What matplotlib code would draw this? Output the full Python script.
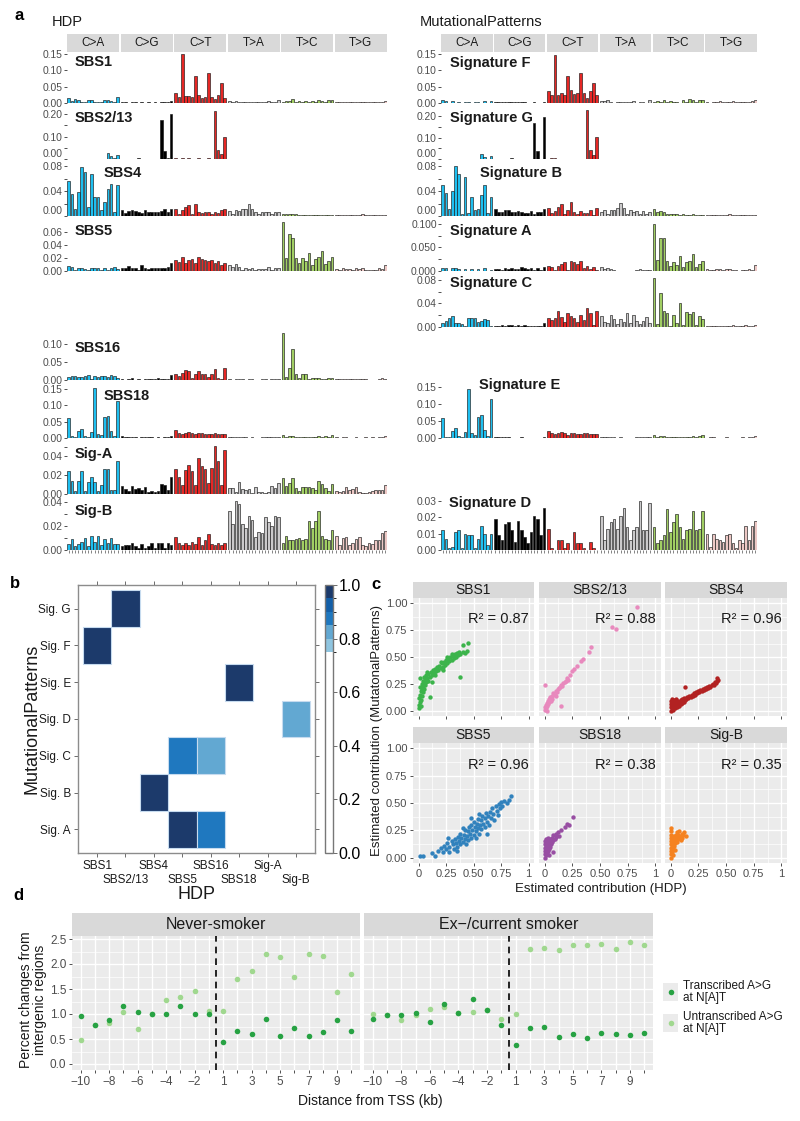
import matplotlib
matplotlib.use('Agg')
import matplotlib.pyplot as plt
import numpy as np
from matplotlib.patches import Rectangle
from matplotlib.colors import ListedColormap, BoundaryNorm
from matplotlib.cm import ScalarMappable

plt.rcParams['font.family'] = ['Liberation Sans', 'DejaVu Sans']

# ---------------- data: panel a (96-channel spectra, 6 groups x 16) ----------------
mut_types = ['C>A', 'C>G', 'C>T', 'T>A', 'T>C', 'T>G']
type_colors = ['#1ebff0', '#000000', '#e62725', '#cbcacb', '#a1ce63', '#edc8c5']

sbs1 = [[0.015, 0.005, 0.013, 0.008, 0.003, 0.002, 0.008, 0.009, 0.003, 0.002, 0.003, 0.010, 0.008, 0.007, 0.002, 0.017],
        [0.002, 0.002, 0.001, 0.002, 0.002, 0.001, 0.002, 0.001, 0.002, 0.001, 0.002, 0.001, 0.002, 0.002, 0.002, 0.006],
        [0.030, 0.018, 0.150, 0.020, 0.020, 0.017, 0.082, 0.023, 0.015, 0.018, 0.092, 0.018, 0.012, 0.024, 0.060, 0.015],
        [0.005, 0.004, 0.007, 0.003, 0.002, 0.003, 0.002, 0.003, 0.002, 0.003, 0.004, 0.002, 0.005, 0.003, 0.002, 0.008],
        [0.004, 0.006, 0.006, 0.012, 0.004, 0.006, 0.004, 0.005, 0.003, 0.006, 0.004, 0.010, 0.006, 0.004, 0.008, 0.009],
        [0.002, 0.003, 0.004, 0.002, 0.003, 0.002, 0.003, 0.004, 0.002, 0.003, 0.002, 0.003, 0.002, 0.003, 0.004, 0.007]]
sbs2_13 = [[0.001, 0.001, 0.001, 0.002, 0.001, 0.001, 0.001, 0.001, 0.001, 0.001, 0.001, 0.001, 0.025, 0.012, 0.005, 0.016],
           [0.002, 0.001, 0.001, 0.001, 0.002, 0.004, 0.001, 0.001, 0.001, 0.001, 0.001, 0.001, 0.175, 0.036, 0.005, 0.200],
           [0.003, 0.002, 0.003, 0.002, 0.004, 0.002, 0.002, 0.003, 0.002, 0.002, 0.003, 0.002, 0.215, 0.038, 0.023, 0.097],
           [0.001, 0.001, 0.001, 0.001, 0.001, 0.001, 0.001, 0.001, 0.001, 0.001, 0.001, 0.001, 0.001, 0.001, 0.001, 0.001],
           [0.002, 0.001, 0.001, 0.001, 0.001, 0.001, 0.001, 0.001, 0.001, 0.001, 0.001, 0.001, 0.001, 0.001, 0.001, 0.001],
           [0.001, 0.001, 0.001, 0.001, 0.001, 0.001, 0.001, 0.001, 0.001, 0.001, 0.001, 0.001, 0.001, 0.001, 0.001, 0.001]]
sbs4 = [[0.056, 0.036, 0.011, 0.039, 0.079, 0.070, 0.015, 0.067, 0.031, 0.031, 0.010, 0.023, 0.044, 0.052, 0.006, 0.050],
        [0.010, 0.005, 0.008, 0.010, 0.008, 0.006, 0.005, 0.009, 0.007, 0.006, 0.006, 0.006, 0.008, 0.011, 0.007, 0.012],
        [0.011, 0.004, 0.009, 0.015, 0.018, 0.003, 0.019, 0.006, 0.005, 0.007, 0.007, 0.004, 0.007, 0.005, 0.010, 0.011],
        [0.008, 0.004, 0.010, 0.008, 0.011, 0.012, 0.020, 0.011, 0.007, 0.004, 0.007, 0.006, 0.007, 0.004, 0.006, 0.007],
        [0.003, 0.004, 0.004, 0.003, 0.004, 0.002, 0.001, 0.001, 0.001, 0.001, 0.001, 0.001, 0.001, 0.002, 0.001, 0.001],
        [0.001, 0.001, 0.001, 0.002, 0.001, 0.001, 0.001, 0.001, 0.003, 0.001, 0.001, 0.001, 0.001, 0.002, 0.001, 0.002]]
sbs5 = [[0.007, 0.006, 0.002, 0.005, 0.004, 0.003, 0.001, 0.004, 0.004, 0.004, 0.002, 0.004, 0.002, 0.004, 0.006, 0.003],
        [0.005, 0.004, 0.007, 0.005, 0.005, 0.002, 0.009, 0.004, 0.003, 0.005, 0.004, 0.005, 0.005, 0.004, 0.006, 0.013],
        [0.017, 0.014, 0.021, 0.013, 0.017, 0.019, 0.012, 0.022, 0.019, 0.017, 0.015, 0.017, 0.013, 0.016, 0.010, 0.013],
        [0.010, 0.006, 0.011, 0.006, 0.002, 0.004, 0.003, 0.004, 0.002, 0.003, 0.003, 0.003, 0.006, 0.002, 0.004, 0.005],
        [0.075, 0.020, 0.057, 0.051, 0.020, 0.012, 0.020, 0.015, 0.028, 0.009, 0.018, 0.022, 0.031, 0.011, 0.015, 0.022],
        [0.003, 0.002, 0.004, 0.003, 0.003, 0.002, 0.004, 0.003, 0.005, 0.001, 0.002, 0.001, 0.002, 0.004, 0.003, 0.009]]
sbs16 = [[0.008, 0.011, 0.011, 0.009, 0.008, 0.010, 0.014, 0.004, 0.010, 0.009, 0.010, 0.010, 0.009, 0.014, 0.010, 0.006],
         [0.002, 0.001, 0.003, 0.006, 0.001, 0.002, 0.001, 0.002, 0.002, 0.002, 0.003, 0.005, 0.004, 0.004, 0.004, 0.013],
         [0.016, 0.011, 0.020, 0.028, 0.026, 0.005, 0.018, 0.026, 0.016, 0.016, 0.007, 0.018, 0.030, 0.006, 0.004, 0.034],
         [0.004, 0.001, 0.004, 0.003, 0.003, 0.001, 0.002, 0.002, 0.001, 0.001, 0.002, 0.003, 0.001, 0.003, 0.002, 0.003],
         [0.132, 0.009, 0.032, 0.085, 0.017, 0.005, 0.016, 0.016, 0.003, 0.005, 0.006, 0.006, 0.004, 0.003, 0.006, 0.006],
         [0.003, 0.002, 0.002, 0.003, 0.002, 0.002, 0.003, 0.004, 0.003, 0.002, 0.001, 0.001, 0.001, 0.002, 0.005, 0.003]]
sbs18 = [[0.060, 0.005, 0.004, 0.021, 0.029, 0.006, 0.003, 0.019, 0.152, 0.013, 0.008, 0.063, 0.066, 0.022, 0.006, 0.114],
         [0.005, 0.003, 0.002, 0.004, 0.002, 0.001, 0.002, 0.002, 0.004, 0.002, 0.001, 0.002, 0.001, 0.002, 0.003, 0.007],
         [0.023, 0.016, 0.013, 0.016, 0.018, 0.016, 0.012, 0.014, 0.014, 0.012, 0.011, 0.012, 0.015, 0.013, 0.012, 0.012],
         [0.002, 0.002, 0.003, 0.002, 0.003, 0.002, 0.001, 0.002, 0.001, 0.001, 0.002, 0.002, 0.004, 0.002, 0.003, 0.003],
         [0.010, 0.004, 0.006, 0.006, 0.002, 0.003, 0.004, 0.004, 0.004, 0.004, 0.003, 0.006, 0.004, 0.006, 0.004, 0.009],
         [0.002, 0.001, 0.002, 0.002, 0.001, 0.001, 0.003, 0.001, 0.001, 0.002, 0.001, 0.002, 0.001, 0.002, 0.002, 0.006]]
sig_a_hdp = [[0.024, 0.014, 0.003, 0.014, 0.024, 0.003, 0.013, 0.018, 0.013, 0.003, 0.009, 0.026, 0.026, 0.004, 0.004, 0.035],
             [0.008, 0.005, 0.003, 0.008, 0.005, 0.006, 0.004, 0.007, 0.002, 0.003, 0.002, 0.003, 0.011, 0.009, 0.004, 0.018],
             [0.026, 0.018, 0.010, 0.025, 0.031, 0.024, 0.010, 0.038, 0.029, 0.026, 0.012, 0.027, 0.051, 0.035, 0.010, 0.046],
             [0.006, 0.006, 0.002, 0.013, 0.005, 0.004, 0.005, 0.001, 0.007, 0.002, 0.002, 0.001, 0.002, 0.008, 0.006, 0.012],
             [0.017, 0.008, 0.012, 0.017, 0.006, 0.003, 0.007, 0.007, 0.007, 0.006, 0.004, 0.014, 0.011, 0.006, 0.003, 0.011],
             [0.003, 0.002, 0.003, 0.007, 0.004, 0.005, 0.007, 0.002, 0.001, 0.001, 0.002, 0.003, 0.004, 0.004, 0.004, 0.010]]
sig_b_hdp = [[0.005, 0.009, 0.003, 0.005, 0.007, 0.010, 0.003, 0.012, 0.007, 0.012, 0.004, 0.009, 0.006, 0.010, 0.005, 0.005],
             [0.003, 0.004, 0.004, 0.006, 0.003, 0.002, 0.005, 0.002, 0.003, 0.006, 0.002, 0.006, 0.006, 0.002, 0.006, 0.004],
             [0.011, 0.006, 0.004, 0.006, 0.004, 0.007, 0.005, 0.011, 0.004, 0.008, 0.013, 0.005, 0.004, 0.006, 0.004, 0.006],
             [0.032, 0.022, 0.041, 0.038, 0.022, 0.018, 0.028, 0.025, 0.011, 0.015, 0.014, 0.027, 0.023, 0.020, 0.028, 0.027],
             [0.006, 0.012, 0.008, 0.008, 0.009, 0.010, 0.008, 0.009, 0.024, 0.018, 0.024, 0.032, 0.012, 0.009, 0.008, 0.017],
             [0.012, 0.004, 0.010, 0.011, 0.004, 0.006, 0.009, 0.011, 0.004, 0.003, 0.006, 0.005, 0.008, 0.008, 0.014, 0.016]]

sig_f = [[0.008, 0.007, 0.001, 0.007, 0.001, 0.002, 0.001, 0.002, 0.004, 0.001, 0.002, 0.002, 0.001, 0.007, 0.001, 0.007],
         [0.003, 0.002, 0.002, 0.003, 0.002, 0.003, 0.002, 0.003, 0.002, 0.002, 0.001, 0.001, 0.002, 0.001, 0.001, 0.002],
         [0.038, 0.025, 0.148, 0.025, 0.032, 0.025, 0.082, 0.040, 0.028, 0.030, 0.092, 0.032, 0.015, 0.037, 0.060, 0.025],
         [0.007, 0.007, 0.009, 0.002, 0.001, 0.004, 0.003, 0.004, 0.002, 0.003, 0.005, 0.001, 0.003, 0.002, 0.001, 0.010],
         [0.003, 0.006, 0.002, 0.010, 0.002, 0.007, 0.002, 0.003, 0.001, 0.008, 0.003, 0.012, 0.009, 0.003, 0.008, 0.008],
         [0.002, 0.001, 0.004, 0.002, 0.006, 0.002, 0.002, 0.004, 0.005, 0.002, 0.003, 0.003, 0.003, 0.004, 0.005, 0.009]]
sig_g = [[0.001, 0.001, 0.001, 0.002, 0.001, 0.001, 0.001, 0.002, 0.001, 0.001, 0.001, 0.001, 0.025, 0.010, 0.002, 0.016],
         [0.002, 0.001, 0.002, 0.001, 0.002, 0.003, 0.001, 0.001, 0.001, 0.001, 0.001, 0.001, 0.170, 0.036, 0.002, 0.195],
         [0.002, 0.003, 0.004, 0.002, 0.001, 0.002, 0.001, 0.002, 0.001, 0.002, 0.001, 0.002, 0.230, 0.043, 0.020, 0.105],
         [0.001, 0.001, 0.001, 0.001, 0.002, 0.001, 0.001, 0.001, 0.001, 0.001, 0.002, 0.001, 0.001, 0.001, 0.001, 0.001],
         [0.001, 0.001, 0.002, 0.001, 0.001, 0.001, 0.001, 0.001, 0.001, 0.002, 0.001, 0.001, 0.001, 0.001, 0.001, 0.001],
         [0.001, 0.001, 0.001, 0.001, 0.001, 0.001, 0.001, 0.001, 0.001, 0.001, 0.001, 0.001, 0.001, 0.001, 0.001, 0.001]]
sig_b = [[0.050, 0.037, 0.012, 0.040, 0.080, 0.068, 0.004, 0.062, 0.005, 0.030, 0.010, 0.012, 0.034, 0.050, 0.005, 0.030],
         [0.012, 0.006, 0.007, 0.010, 0.010, 0.006, 0.006, 0.008, 0.006, 0.005, 0.005, 0.008, 0.004, 0.007, 0.007, 0.012],
         [0.013, 0.005, 0.008, 0.014, 0.019, 0.004, 0.009, 0.023, 0.006, 0.004, 0.008, 0.005, 0.005, 0.010, 0.002, 0.013],
         [0.006, 0.010, 0.004, 0.010, 0.010, 0.013, 0.021, 0.013, 0.004, 0.010, 0.007, 0.008, 0.004, 0.008, 0.004, 0.007],
         [0.012, 0.006, 0.008, 0.006, 0.004, 0.003, 0.004, 0.003, 0.002, 0.003, 0.001, 0.002, 0.003, 0.001, 0.001, 0.001],
         [0.001, 0.001, 0.002, 0.001, 0.001, 0.002, 0.001, 0.004, 0.001, 0.001, 0.002, 0.001, 0.001, 0.002, 0.001, 0.002]]
sig_a = [[0.006, 0.006, 0.001, 0.006, 0.006, 0.004, 0.001, 0.005, 0.001, 0.005, 0.001, 0.004, 0.001, 0.006, 0.001, 0.002],
         [0.004, 0.005, 0.003, 0.007, 0.005, 0.007, 0.004, 0.004, 0.008, 0.006, 0.005, 0.006, 0.003, 0.006, 0.003, 0.009],
         [0.011, 0.008, 0.002, 0.011, 0.015, 0.020, 0.002, 0.021, 0.020, 0.014, 0.021, 0.007, 0.011, 0.004, 0.008, 0.003],
         [0.008, 0.005, 0.007, 0.005, 0.002, 0.001, 0.001, 0.001, 0.001, 0.001, 0.001, 0.003, 0.005, 0.002, 0.002, 0.002],
         [0.100, 0.023, 0.069, 0.069, 0.021, 0.011, 0.020, 0.013, 0.032, 0.008, 0.018, 0.021, 0.035, 0.008, 0.015, 0.021],
         [0.004, 0.002, 0.003, 0.004, 0.004, 0.003, 0.004, 0.005, 0.002, 0.002, 0.001, 0.002, 0.003, 0.005, 0.003, 0.013]]
sig_c = [[0.007, 0.010, 0.015, 0.018, 0.006, 0.006, 0.005, 0.002, 0.015, 0.016, 0.015, 0.008, 0.010, 0.014, 0.012, 0.002],
         [0.001, 0.001, 0.003, 0.002, 0.003, 0.003, 0.002, 0.003, 0.002, 0.003, 0.002, 0.001, 0.001, 0.001, 0.002, 0.006],
         [0.016, 0.012, 0.016, 0.027, 0.017, 0.009, 0.024, 0.019, 0.016, 0.008, 0.021, 0.012, 0.032, 0.023, 0.004, 0.028],
         [0.018, 0.009, 0.006, 0.021, 0.013, 0.005, 0.013, 0.008, 0.024, 0.006, 0.020, 0.010, 0.005, 0.011, 0.017, 0.006],
         [0.083, 0.005, 0.057, 0.027, 0.024, 0.002, 0.021, 0.007, 0.040, 0.004, 0.026, 0.022, 0.026, 0.004, 0.019, 0.013],
         [0.002, 0.001, 0.002, 0.001, 0.001, 0.002, 0.002, 0.001, 0.004, 0.001, 0.001, 0.001, 0.003, 0.001, 0.001, 0.003]]
sig_e = [[0.059, 0.004, 0.004, 0.020, 0.028, 0.006, 0.003, 0.018, 0.145, 0.015, 0.009, 0.062, 0.069, 0.024, 0.007, 0.115],
         [0.004, 0.002, 0.002, 0.004, 0.002, 0.001, 0.001, 0.001, 0.004, 0.001, 0.001, 0.001, 0.001, 0.001, 0.001, 0.002],
         [0.022, 0.016, 0.012, 0.016, 0.018, 0.014, 0.010, 0.014, 0.015, 0.012, 0.012, 0.014, 0.015, 0.012, 0.012, 0.011],
         [0.002, 0.003, 0.004, 0.002, 0.002, 0.001, 0.002, 0.001, 0.001, 0.001, 0.001, 0.002, 0.004, 0.003, 0.002, 0.002],
         [0.010, 0.004, 0.007, 0.006, 0.003, 0.002, 0.003, 0.004, 0.003, 0.003, 0.002, 0.004, 0.006, 0.004, 0.005, 0.009],
         [0.001, 0.002, 0.002, 0.001, 0.001, 0.001, 0.003, 0.001, 0.001, 0.001, 0.001, 0.002, 0.001, 0.002, 0.002, 0.007]]
sig_d = [[0.012, 0.007, 0.001, 0.002, 0.011, 0.012, 0.001, 0.010, 0.009, 0.009, 0.001, 0.007, 0.015, 0.010, 0.003, 0.010],
         [0.019, 0.009, 0.006, 0.016, 0.017, 0.012, 0.005, 0.018, 0.012, 0.008, 0.004, 0.011, 0.021, 0.019, 0.009, 0.026],
         [0.013, 0.001, 0.000, 0.006, 0.006, 0.001, 0.004, 0.000, 0.011, 0.004, 0.004, 0.001, 0.000, 0.005, 0.001, 0.000],
         [0.021, 0.006, 0.013, 0.017, 0.019, 0.013, 0.021, 0.026, 0.014, 0.006, 0.012, 0.014, 0.030, 0.012, 0.012, 0.029],
         [0.014, 0.004, 0.006, 0.009, 0.025, 0.011, 0.017, 0.022, 0.014, 0.007, 0.012, 0.013, 0.024, 0.012, 0.013, 0.024],
         [0.010, 0.002, 0.010, 0.007, 0.006, 0.005, 0.009, 0.010, 0.004, 0.001, 0.006, 0.004, 0.015, 0.006, 0.015, 0.018]]

# ---------------- data: panel b ----------------
hdp_names = ['SBS1', 'SBS2/13', 'SBS4', 'SBS5', 'SBS16', 'SBS18', 'Sig-A', 'Sig-B']
mp_names = ['Sig. A', 'Sig. B', 'Sig. C', 'Sig. D', 'Sig. E', 'Sig. F', 'Sig. G']
cos_sim = [[0, 0, 0, 0.97, 0.88, 0, 0, 0],
           [0, 0, 0.98, 0, 0, 0, 0, 0],
           [0, 0, 0, 0.88, 0.82, 0, 0, 0],
           [0, 0, 0, 0, 0, 0, 0, 0.83],
           [0, 0, 0, 0, 0, 0.98, 0, 0],
           [0.97, 0, 0, 0, 0, 0, 0, 0],
           [0, 0.98, 0, 0, 0, 0, 0, 0]]

# ---------------- data: panel c ----------------
c_names = ['SBS1', 'SBS2/13', 'SBS4', 'SBS5', 'SBS18', 'Sig-B']
c_r2 = ['0.87', '0.88', '0.96', '0.96', '0.38', '0.35']
c_colors = ['#3cb44b', '#e889bd', '#b22222', '#3182bd', '#984ea3', '#f58220']
sbs1_pts = [(0.00, 0.02), (0.00, 0.05), (0.01, 0.08), (0.00, 0.12), (0.01, 0.15), (0.02, 0.10), (0.02, 0.18),
            (0.01, 0.22), (0.03, 0.14), (0.03, 0.20), (0.03, 0.25), (0.04, 0.17), (0.04, 0.23), (0.04, 0.28),
            (0.05, 0.20), (0.05, 0.26), (0.05, 0.31), (0.06, 0.24), (0.06, 0.29), (0.07, 0.27), (0.07, 0.33),
            (0.08, 0.30), (0.09, 0.28), (0.09, 0.34), (0.10, 0.31), (0.10, 0.13), (0.11, 0.36), (0.12, 0.33),
            (0.13, 0.38), (0.14, 0.35), (0.15, 0.39), (0.16, 0.37), (0.17, 0.41), (0.18, 0.38), (0.19, 0.42),
            (0.20, 0.40), (0.21, 0.44), (0.22, 0.41), (0.23, 0.45), (0.24, 0.43), (0.25, 0.47), (0.26, 0.44),
            (0.27, 0.48), (0.28, 0.46), (0.29, 0.50), (0.30, 0.47), (0.31, 0.51), (0.32, 0.49), (0.33, 0.53),
            (0.34, 0.50), (0.35, 0.54), (0.36, 0.52), (0.37, 0.55), (0.38, 0.53), (0.40, 0.55), (0.42, 0.54),
            (0.38, 0.31), (0.40, 0.61), (0.45, 0.63), (0.44, 0.56), (0.30, 0.53), (0.26, 0.50), (0.20, 0.45),
            (0.12, 0.27), (0.08, 0.36), (0.15, 0.33), (0.22, 0.38), (0.02, 0.04), (0.01, 0.30)]
sbs2_pts = [(0.00, 0.01), (0.00, 0.03), (0.01, 0.02), (0.01, 0.05), (0.02, 0.04), (0.02, 0.07), (0.03, 0.06),
            (0.03, 0.09), (0.04, 0.08), (0.04, 0.11), (0.05, 0.10), (0.05, 0.13), (0.06, 0.12), (0.07, 0.14),
            (0.07, 0.11), (0.08, 0.16), (0.09, 0.15), (0.10, 0.18), (0.11, 0.17), (0.12, 0.20), (0.13, 0.21),
            (0.14, 0.22), (0.15, 0.24), (0.16, 0.23), (0.17, 0.26), (0.18, 0.27), (0.19, 0.28), (0.20, 0.30),
            (0.21, 0.29), (0.23, 0.33), (0.25, 0.37), (0.27, 0.39), (0.29, 0.42), (0.33, 0.46), (0.35, 0.48),
            (0.40, 0.55), (0.42, 0.59), (0.61, 0.78), (0.64, 0.76), (0.83, 0.97), (0.00, 0.24), (0.15, 0.04),
            (0.02, 0.00), (0.06, 0.09), (0.10, 0.14)]
sbs4_pts = [(0.00, 0.00), (0.00, 0.03), (0.00, 0.06), (0.00, 0.09), (0.01, 0.02), (0.01, 0.05), (0.01, 0.08),
            (0.01, 0.11), (0.02, 0.01), (0.02, 0.04), (0.02, 0.07), (0.03, 0.03), (0.03, 0.06), (0.03, 0.10),
            (0.04, 0.02), (0.04, 0.05), (0.04, 0.08), (0.05, 0.04), (0.05, 0.07), (0.05, 0.11), (0.06, 0.03),
            (0.06, 0.06), (0.07, 0.05), (0.07, 0.09), (0.08, 0.04), (0.08, 0.08), (0.09, 0.06), (0.09, 0.10),
            (0.10, 0.07), (0.10, 0.11), (0.11, 0.09), (0.12, 0.08), (0.12, 0.12), (0.13, 0.10), (0.13, 0.22),
            (0.14, 0.11), (0.15, 0.13), (0.16, 0.12), (0.17, 0.14), (0.18, 0.13), (0.19, 0.15), (0.20, 0.14),
            (0.21, 0.16), (0.22, 0.15), (0.23, 0.17), (0.24, 0.16), (0.25, 0.18), (0.26, 0.17), (0.27, 0.19),
            (0.28, 0.18), (0.29, 0.20), (0.30, 0.19), (0.31, 0.21), (0.32, 0.20), (0.33, 0.22), (0.34, 0.21),
            (0.35, 0.23), (0.36, 0.22), (0.37, 0.24), (0.38, 0.25), (0.39, 0.24), (0.40, 0.27), (0.41, 0.26),
            (0.42, 0.28), (0.43, 0.29), (0.42, 0.30)]
sbs5_pts = [(0.01, 0.01), (0.04, 0.01), (0.12, 0.04), (0.15, 0.01), (0.18, 0.06), (0.20, 0.09), (0.22, 0.05),
            (0.23, 0.11), (0.25, 0.08), (0.26, 0.13), (0.28, 0.10), (0.28, 0.05), (0.30, 0.15), (0.31, 0.12),
            (0.32, 0.08), (0.33, 0.17), (0.34, 0.13), (0.35, 0.10), (0.36, 0.19), (0.37, 0.15), (0.38, 0.12),
            (0.38, 0.22), (0.39, 0.18), (0.40, 0.14), (0.41, 0.21), (0.42, 0.17), (0.42, 0.25), (0.43, 0.12),
            (0.44, 0.20), (0.45, 0.24), (0.45, 0.16), (0.46, 0.28), (0.47, 0.22), (0.48, 0.18), (0.48, 0.30),
            (0.49, 0.25), (0.50, 0.21), (0.50, 0.33), (0.51, 0.28), (0.52, 0.24), (0.52, 0.18), (0.53, 0.31),
            (0.54, 0.27), (0.54, 0.35), (0.55, 0.22), (0.56, 0.30), (0.57, 0.34), (0.57, 0.26), (0.58, 0.38),
            (0.59, 0.31), (0.60, 0.28), (0.60, 0.36), (0.61, 0.41), (0.62, 0.33), (0.63, 0.38), (0.64, 0.30),
            (0.65, 0.42), (0.66, 0.36), (0.67, 0.45), (0.68, 0.40), (0.69, 0.34), (0.70, 0.47), (0.71, 0.43),
            (0.72, 0.39), (0.73, 0.49), (0.74, 0.45), (0.75, 0.51), (0.76, 0.47), (0.78, 0.52), (0.80, 0.50),
            (0.82, 0.53), (0.84, 0.56), (0.35, 0.06), (0.27, 0.18), (0.40, 0.27), (0.62, 0.22), (0.55, 0.40),
            (0.48, 0.36)]
sbs18_pts = [(0.00, 0.00), (0.00, 0.03), (0.00, 0.06), (0.00, 0.09), (0.00, 0.12), (0.00, 0.15), (0.01, 0.02),
             (0.01, 0.05), (0.01, 0.08), (0.01, 0.11), (0.01, 0.14), (0.01, 0.17), (0.02, 0.04), (0.02, 0.07),
             (0.02, 0.10), (0.02, 0.13), (0.02, 0.16), (0.03, 0.06), (0.03, 0.09), (0.03, 0.12), (0.03, 0.15),
             (0.03, 0.18), (0.04, 0.08), (0.04, 0.11), (0.04, 0.14), (0.05, 0.10), (0.05, 0.13), (0.05, 0.17),
             (0.06, 0.12), (0.06, 0.15), (0.07, 0.14), (0.07, 0.18), (0.08, 0.16), (0.08, 0.21), (0.09, 0.17),
             (0.10, 0.19), (0.10, 0.22), (0.12, 0.23), (0.13, 0.20), (0.15, 0.25), (0.18, 0.28), (0.20, 0.31),
             (0.22, 0.30), (0.26, 0.37), (0.08, 0.05), (0.04, 0.02)]
sigb_pts = [(0.00, 0.00), (0.00, 0.03), (0.00, 0.06), (0.00, 0.09), (0.00, 0.12), (0.00, 0.15), (0.00, 0.18),
            (0.00, 0.21), (0.00, 0.24), (0.00, 0.27), (0.01, 0.05), (0.01, 0.10), (0.01, 0.14), (0.01, 0.19),
            (0.02, 0.08), (0.02, 0.12), (0.02, 0.17), (0.03, 0.11), (0.03, 0.15), (0.03, 0.20), (0.04, 0.13),
            (0.04, 0.18), (0.05, 0.16), (0.05, 0.21), (0.06, 0.14), (0.06, 0.19), (0.06, 0.23), (0.07, 0.17),
            (0.07, 0.21), (0.08, 0.19), (0.08, 0.24), (0.09, 0.20), (0.09, 0.16), (0.10, 0.22), (0.10, 0.18),
            (0.11, 0.21), (0.12, 0.23), (0.14, 0.20), (0.04, 0.07), (0.02, 0.02)]

# ---------------- data: panel d ----------------
tss_labels = ['-10', '-9', '-8', '-7', '-6', '-5', '-4', '-3', '-2', '-1',
              '1', '2', '3', '4', '5', '6', '7', '8', '9', '10']
never_tx = [0.97, 0.79, 0.88, 1.17, 1.05, 1.00, 1.00, 1.17, 1.00, 1.00,
            0.44, 0.67, 0.61, 0.90, 0.56, 0.73, 0.56, 0.64, 0.88, 0.67]
never_untx = [0.49, 0.78, 0.83, 1.04, 0.70, 1.00, 1.29, 1.35, 1.47, 1.07,
              1.07, 1.71, 1.87, 2.20, 2.14, 1.75, 2.20, 2.17, 1.44, 1.81]
smoker_tx = [0.91, 0.98, 0.98, 1.03, 0.84, 1.21, 1.03, 1.30, 1.09, 0.78,
             0.38, 0.72, 0.74, 0.54, 0.61, 0.52, 0.63, 0.61, 0.59, 0.62]
smoker_untx = [1.01, 0.98, 0.875, 0.975, 1.11, 1.14, 1.03, 1.04, 1.08, 0.895,
               1.01, 2.31, 2.33, 2.29, 2.39, 2.39, 2.40, 2.30, 2.45, 2.38]

W, H = 800, 1121
fig = plt.figure(figsize=(8, 11.21), dpi=100)


def box(x0, y0, x1, y1):
    return fig.add_axes([x0 / W, 1 - y1 / H, (x1 - x0) / W, (y1 - y0) / H])


def ftext(x, y, s, **kw):
    fig.text(x / W, 1 - y / H, s, **kw)


# ---------------- panel a ----------------
STEP = 16.4
xpos = np.array([g * STEP + i for g in range(6) for i in range(16)])
bar_cols = [type_colors[g] for g in range(6) for i in range(16)]
XL = (-0.5, 5 * STEP + 15.5)

row_px = [(52, 103), (106, 159), (162, 216), (219, 271), (274, 327),
          (330, 380), (385, 438), (441, 494), (497, 550)]


def spectrum(x0, x1, row, data, ymax, major, minor, fmt, bottom=False):
    top, bot = row_px[row]
    ax = box(x0, top, x1, bot)
    vals = np.concatenate([np.array(g) for g in data])
    ax.bar(xpos, vals, width=0.8, color=bar_cols, edgecolor='#1a1a1a', linewidth=0.45)
    ax.set_xlim(*XL)
    ax.set_ylim(0, ymax)
    for s in ax.spines.values():
        s.set_visible(False)
    ax.set_yticks(major)
    ax.set_yticklabels([fmt.format(v) for v in major])
    ax.set_yticks(minor, minor=True)
    ax.tick_params(axis='y', which='both', length=2, width=0.6, color='#333333',
                   labelsize=7.4, labelcolor='#4d4d4d', pad=1)
    # rows that sit right on top of the next one: lift the 0 label a touch
    if row in (1, 2):
        ax.get_yticklabels()[0].set_va('bottom')
    if bottom:
        ax.set_xticks(xpos)
        ax.set_xticklabels([])
        ax.tick_params(axis='x', length=2, width=0.5, color='#555555')
    else:
        ax.set_xticks([])
    return ax


def strips(x0, x1):
    ax = box(x0, 34, x1, 52)
    for g in range(6):
        ax.add_patch(Rectangle((g * STEP - 0.5, 0), 16.0, 1, facecolor='#d9d9d9', edgecolor='none'))
        ax.text(g * STEP + 7.5, 0.5, mut_types[g], ha='center', va='center', fontsize=8.5, color='#1a1a1a')
    ax.set_xlim(*XL)
    ax.set_ylim(0, 1)
    ax.axis('off')


LX0, LX1 = 67, 387
RX0, RX1 = 441, 757
strips(LX0, LX1)
strips(RX0, RX1)

f2 = '{:.2f}'
left_rows = [
    ('SBS1', sbs1, 0, 0.156, [0, 0.05, 0.10, 0.15], [], f2, 75, 55),
    ('SBS2/13', sbs2_13, 1, 0.236, [0, 0.10, 0.20], [0.05, 0.15], f2, 75, 111),
    ('SBS4', sbs4, 2, 0.0864, [0, 0.04, 0.08], [0.02, 0.06], f2, 104, 166),
    ('SBS5', sbs5, 3, 0.08, [0, 0.02, 0.04, 0.06], [], f2, 75, 224),
    ('SBS16', sbs16, 5, 0.139, [0, 0.05, 0.10], [], f2, 75, 341),
    ('SBS18', sbs18, 6, 0.162, [0, 0.05, 0.10, 0.15], [], f2, 104, 389),
    ('Sig-A', sig_a_hdp, 7, 0.0558, [0, 0.02, 0.04], [0.05], f2, 75, 447),
    ('Sig-B', sig_b_hdp, 8, 0.044, [0, 0.02, 0.04], [0.01, 0.03], f2, 75, 504),
]
right_rows = [
    ('Signature F', sig_f, 0, 0.156, [0, 0.05, 0.10, 0.15], [], f2, 450, 56),
    ('Signature G', sig_g, 1, 0.248, [0, 0.10, 0.20], [0.05, 0.15], f2, 450, 111),
    ('Signature B', sig_b, 2, 0.0864, [0, 0.04, 0.08], [0.02, 0.06], f2, 480, 166),
    ('Signature A', sig_a, 3, 0.11, [0, 0.05, 0.10], [0.025, 0.075], '{:.3f}', 450, 224),
    ('Signature C', sig_c, 4, 0.09, [0, 0.04, 0.08], [0.02, 0.06], f2, 450, 276),
    ('Signature E', sig_e, 6, 0.156, [0, 0.05, 0.10, 0.15], [], f2, 479, 378),
    ('Signature D', sig_d, 8, 0.0325, [0, 0.01, 0.02, 0.03], [], f2, 449, 496),
]
for name, data, row, ymax, major, minor, fmt, lx, ly in left_rows:
    spectrum(LX0, LX1, row, data, ymax, major, minor, fmt, bottom=(row == 8))
    ftext(lx, ly, name, fontsize=10.5, fontweight='bold', va='top', color='#1a1a1a')
for name, data, row, ymax, major, minor, fmt, lx, ly in right_rows:
    spectrum(RX0, RX1, row, data, ymax, major, minor, fmt, bottom=(row == 8))
    ftext(lx, ly, name, fontsize=10.5, fontweight='bold', va='top', color='#1a1a1a')

ftext(14, 8, 'a', fontsize=12, fontweight='bold', va='top')
ftext(52, 15, 'HDP', fontsize=10.5, va='top', color='#1a1a1a')
ftext(420, 15, 'MutationalPatterns', fontsize=10.5, va='top', color='#1a1a1a')

# ---------------- panel b ----------------
bounds = [0, 0.75, 0.80, 0.85, 0.90, 0.95, 1.0]
cmap = ListedColormap(['#ffffff', '#8fc5e0', '#62a8d2', '#1f78bf', '#135fa8', '#1c3a6b'])
norm = BoundaryNorm(bounds, cmap.N)

axb = box(78, 585, 315, 853)
for r, row in enumerate(cos_sim):
    for c, v in enumerate(row):
        if v >= 0.75:
            axb.add_patch(Rectangle((c - 0.5, r - 0.5), 1, 1, facecolor=cmap(norm(v)),
                                    edgecolor='#c6dbef', linewidth=0.8))
axb.set_xlim(-0.67, 7.67)
axb.set_ylim(-0.64, 6.64)
axb.set_xticks(range(0, 8, 2))
axb.set_xticklabels(hdp_names[0::2])
axb.set_xticks(range(1, 8, 2), minor=True)
axb.set_xticklabels(hdp_names[1::2], minor=True)
axb.set_yticks(range(len(mp_names)))
axb.set_yticklabels(mp_names)
axb.tick_params(which='both', top=True, right=True, length=3, width=0.6, color='#555555',
                labelsize=8.5, labelcolor='#1a1a1a', pad=2)
axb.tick_params(axis='x', which='minor', pad=12)
for s in axb.spines.values():
    s.set_color('#8c8c8c')
    s.set_linewidth(1.0)
axb.set_xlabel('HDP', fontsize=13, color='#1a1a1a', labelpad=0)
axb.set_ylabel('MutationalPatterns', fontsize=13, color='#1a1a1a')
axb.yaxis.set_label_coords(-0.16, 0.5)

cax = box(325, 585, 333, 853)
cb = fig.colorbar(ScalarMappable(norm=norm, cmap=cmap), cax=cax, spacing='proportional',
                  ticks=[0, 0.2, 0.4, 0.6, 0.8, 1.0])
cb.ax.set_yticklabels(['0.0', '0.2', '0.4', '0.6', '0.8', '1.0'])
cb.ax.tick_params(labelsize=11.5, length=3, width=0.6, color='#555555', pad=1)
cb.outline.set_edgecolor('#777777')
cb.outline.set_linewidth(1.0)
ftext(10, 576, 'b', fontsize=12, fontweight='bold', va='top')

# ---------------- panel c ----------------
c_pts = [sbs1_pts, sbs2_pts, sbs4_pts, sbs5_pts, sbs18_pts, sigb_pts]
c_cols = [(413, 534), (539, 661), (665, 787)]
c_rows = [(582, 598, 716), (727, 743, 863)]
ticks = [0, 0.25, 0.5, 0.75, 1.0]
for k in range(6):
    r, c = divmod(k, 3)
    sx0, sx1 = c_cols[c]
    st, pt, pb = c_rows[r]
    sax = box(sx0, st, sx1, pt)
    sax.set_facecolor('#d9d9d9')
    sax.set_xticks([])
    sax.set_yticks([])
    for s in sax.spines.values():
        s.set_visible(False)
    sax.text(0.5, 0.5, c_names[k], ha='center', va='center', fontsize=10, color='#1a1a1a',
             transform=sax.transAxes)
    ax = box(sx0, pt, sx1, pb)
    ax.set_facecolor('#ebebeb')
    ax.set_xlim(-0.05, 1.05)
    ax.set_ylim(-0.05, 1.05)
    ax.set_xticks(ticks)
    ax.set_yticks(ticks)
    ax.set_xticks([0.125, 0.375, 0.625, 0.875], minor=True)
    ax.set_yticks([0.125, 0.375, 0.625, 0.875], minor=True)
    ax.grid(which='major', color='white', linewidth=1.0)
    ax.grid(which='minor', color='white', linewidth=0.5)
    ax.set_axisbelow(True)
    for s in ax.spines.values():
        s.set_visible(False)
    ax.tick_params(which='minor', length=0)
    ax.tick_params(which='major', length=2.5, width=0.6, color='#333333', labelsize=8,
                   labelcolor='#4d4d4d', pad=1.5, left=(c == 0))
    ax.set_xticklabels(['0', '0.25', '0.50', '0.75', '1'] if r == 1 else [])
    ax.set_yticklabels(['0.00', '0.25', '0.50', '0.75', '1.00'] if c == 0 else [])
    pts = np.array(c_pts[k])
    ax.scatter(pts[:, 0], pts[:, 1], s=10, color=c_colors[k], linewidths=0, zorder=3)
    ax.text(1.0, 0.85, 'R\u00b2 = ' + c_r2[k], ha='right', va='center', fontsize=10.5, color='#1a1a1a')

ftext(601, 889, 'Estimated contribution (HDP)', fontsize=9.5, ha='center', va='center', color='#1a1a1a')
ftext(377, 730, 'Estimated contribution (MutatonalPatterns)', fontsize=9.5, ha='center', va='center',
      rotation=90, color='#1a1a1a')
ftext(371, 577, 'c', fontsize=12, fontweight='bold', va='top')

# ---------------- panel d ----------------
xd = np.arange(1, len(tss_labels) + 1)
d_sets = [('Never-smoker', never_tx, never_untx, 72, 360),
          ('Ex\u2212/current smoker', smoker_tx, smoker_untx, 364, 653)]
tx_col, untx_col = '#27a243', '#a0d88f'
for i, (title, tx, untx, x0, x1) in enumerate(d_sets):
    sax = box(x0, 913, x1, 936)
    sax.set_facecolor('#d9d9d9')
    sax.set_xticks([])
    sax.set_yticks([])
    for s in sax.spines.values():
        s.set_visible(False)
    sax.text(0.5, 0.5, title, ha='center', va='center', fontsize=11.5, color='#1a1a1a',
             transform=sax.transAxes)
    ax = box(x0, 936, x1, 1070)
    ax.set_facecolor('#ebebeb')
    ax.set_xlim(0.4, 20.6)
    ax.set_ylim(-0.12, 2.56)
    ax.set_xticks(xd)
    ax.set_xticklabels([lab.replace('-', '\u2212') if j % 2 == 0 else '' for j, lab in enumerate(tss_labels)])
    ax.set_yticks([0, 0.5, 1.0, 1.5, 2.0, 2.5])
    ax.set_yticks([0.25, 0.75, 1.25, 1.75, 2.25], minor=True)
    ax.grid(which='major', color='white', linewidth=1.0)
    ax.grid(which='minor', axis='y', color='white', linewidth=0.5)
    ax.set_axisbelow(True)
    for s in ax.spines.values():
        s.set_visible(False)
    ax.tick_params(which='minor', length=0)
    ax.tick_params(which='major', length=2.5, width=0.6, color='#333333', labelsize=8.5,
                   labelcolor='#4d4d4d', pad=1.5, left=(i == 0))
    if i == 0:
        ax.set_yticklabels(['0.0', '0.5', '1.0', '1.5', '2.0', '2.5'])
    else:
        ax.set_yticklabels([])
    ax.axvline(10.5, color='black', linestyle=(0, (4, 3)), linewidth=1.2)
    ax.scatter(xd, untx, s=16, color=untx_col, linewidths=0, zorder=3)
    ax.scatter(xd, tx, s=16, color=tx_col, linewidths=0, zorder=4)

ftext(370, 1101, 'Distance from TSS (kb)', fontsize=10, ha='center', va='center', color='#1a1a1a')
ftext(33, 1000, 'Percent changes from\nintergenic regions', fontsize=10, ha='center', va='center',
      rotation=90, color='#1a1a1a', linespacing=1.0)
ftext(13, 888, 'd', fontsize=12, fontweight='bold', va='top')

# legend
lax = box(660, 975, 800, 1040)
lax.set_xlim(660, 800)
lax.set_ylim(1040, 975)
lax.axis('off')
leg_items = [('Transcribed A>G\nat N[A]T', tx_col, 992), ('Untranscribed A>G\nat N[A]T', untx_col, 1023)]
for lab, col, yc in leg_items:
    lax.add_patch(Rectangle((663, yc - 9), 15, 18, facecolor='#ebebeb', edgecolor='none'))
    lax.scatter([670.5], [yc], s=16, color=col, linewidths=0)
    lax.text(683, yc, lab, fontsize=8.5, va='center', ha='left', color='#1a1a1a', linespacing=0.95)

fig.savefig('out.png', dpi=100)
